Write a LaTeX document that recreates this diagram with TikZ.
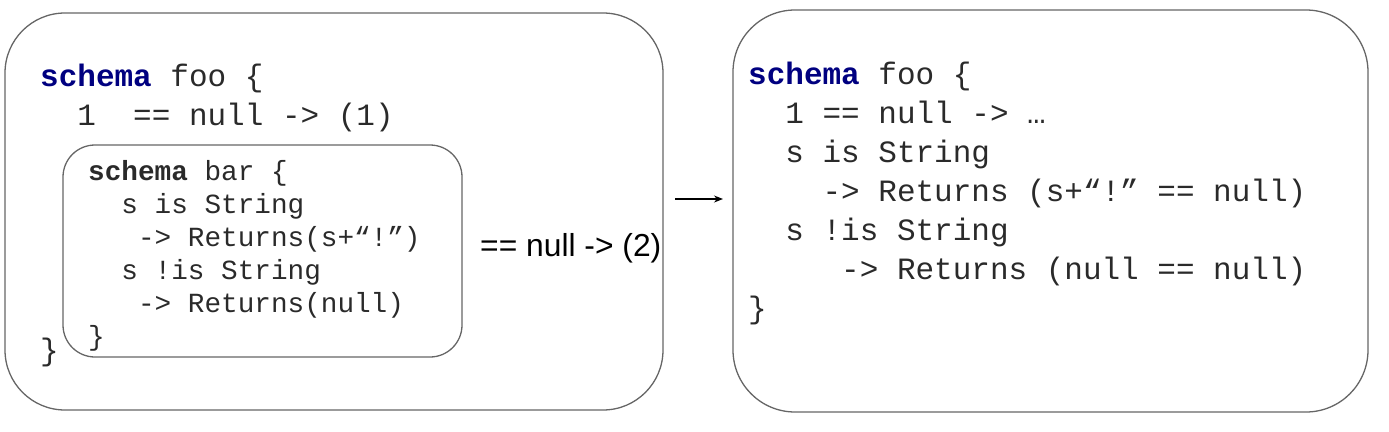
\documentclass[tikz,border=0pt]{standalone}
\usepackage{xcolor}
\usepackage{fontspec}
\setmonofont{Liberation Mono}
\setsansfont{Liberation Sans}
\usepackage{tikz}
\usetikzlibrary{arrows.meta}
\definecolor{kwblue}{HTML}{000080}
\definecolor{boxgray}{HTML}{666666}
\definecolor{codeink}{HTML}{2A2A2A}
\tikzstyle{codebox} = [draw=boxgray,line width=1.3pt,inner sep=0pt]
\tikzstyle{code} = [anchor=base west,inner sep=0pt,align=left,text=codeink]
\tikzstyle{rewrite} = [line width=1.3pt,-{Stealth[length=9pt,width=7pt]}]
\newcommand{\bigcode}{\ttfamily\fontsize{31}{39}\selectfont}
\newcommand{\smallcode}{\ttfamily\fontsize{27.7}{33}\selectfont}
\newcommand{\kw}[1]{\textcolor{kwblue}{\textbf{#1}}}
\begin{document}
\begin{tikzpicture}[x=1pt,y=-1pt]
	\useasboundingbox (0,0) rectangle (1389,431);
	\begin{scope}
		
		% Left side: schema foo with nested schema bar
		% (base west of a multi-line node = baseline of its last line)
		\node[codebox,minimum width=658pt,minimum height=397pt,rounded corners=60pt] (fooBox) at (334,211.5) {};
		\node[codebox,minimum width=399pt,minimum height=212pt,rounded corners=32pt] (barBox) at (262.5,251) {};
		
		\node[code,font=\bigcode] (fooHead) at (40,125) {\kw{schema} foo \{\\
			~~1~~== null -> (1)};
		\node[code,font=\bigcode] (fooEnd) at (40,360) {\}};
		
		\node[code,font=\smallcode] (barText) at (88,345) {\textbf{schema} bar \{\\
			~~s is String\\
			~~~-> Returns(s+“!”)\\
			~~s !is String\\
			~~~-> Returns(null)\\
			\}};
		
		\node[anchor=west,inner sep=0pt,font=\sffamily\fontsize{31.8}{37}\selectfont] (nullTwo) at (480,248) {== null -> (2)};
		
		% Arrow
		\coordinate (arrFrom) at (675,199);
		\coordinate (arrTo) at (723,199);
		\draw[rewrite] (arrFrom) -- (arrTo);
		
		% Right side: rewritten schema foo
		\node[codebox,minimum width=635pt,minimum height=402pt,rounded corners=62pt] (newBox) at (1050.5,211) {};
		
		\node[code,font=\bigcode] (newText) at (748,318) {\kw{schema} foo \{\\
			~~1 == null -> …\\
			~~s is String\\
			~~~~-> Returns (s+“!” == null)\\
			~~s !is String\\
			~~~~~-> Returns (null == null)\\
			\}};
		
	\end{scope}
\end{tikzpicture}
\end{document}
